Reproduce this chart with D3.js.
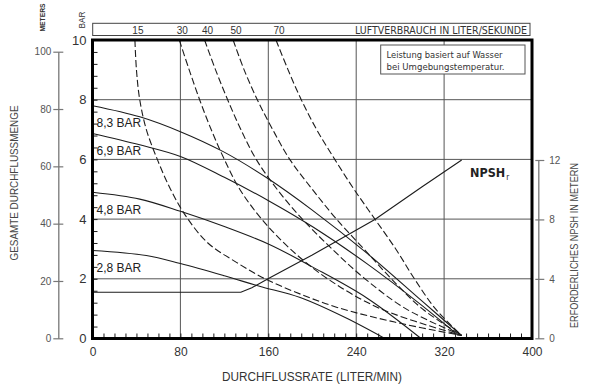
<!DOCTYPE html>
<html>
<head>
<meta charset="utf-8">
<script src="https://cdn.jsdelivr.net/npm/d3@7"></script>
<style>
  html, body { margin: 0; padding: 0; background: #fff; }
  svg { display: block; font-family: "Liberation Sans", Arial, sans-serif; }
  .cond { font-family: "Liberation Sans Narrow", "DejaVu Sans Condensed", "Liberation Sans", sans-serif; }
</style>
</head>
<body>
<svg id="chart" width="592" height="390"></svg>
<script>
// Flow axis (liter/min) and head axis (bar) ticks
const flowTicks = [0, 80, 160, 240, 320, 400];
const barTicks = [0, 2, 4, 6, 8, 10];
const meterTicks = [0, 20, 40, 60, 80, 100];
const npshTicks = [0, 4, 8, 12];

// Head curves at given air supply pressure: [flow l/min, head bar]
const pressureLabels = ["8,3 BAR", "6,9 BAR", "4,8 BAR", "2,8 BAR"];
const head83 = [[0, 7.8], [43, 7.43], [80, 6.93], [119, 6.26], [160, 5.35], [200, 4.3], [250, 2.85], [300, 1.25], [336, 0.1]];
const head69 = [[0, 6.87], [43, 6.49], [80, 6.1], [120, 5.4], [161, 4.6], [200, 3.75], [250, 2.5], [300, 1.1], [333, 0.1]];
const head48 = [[0, 4.9], [43, 4.67], [80, 4.26], [120, 3.75], [161, 3.15], [200, 2.4], [250, 1.35], [299, 0]];
const head28 = [[0, 2.95], [49, 2.78], [80, 2.51], [120, 2.1], [152, 1.75], [189, 1.37], [230, 0.7], [266, 0]];

// Air consumption curves (liter/second): [flow l/min, head bar]
const airLabels = ["15", "30", "40", "50", "70"];
const air15 = [[38.6, 10], [40, 9], [43, 8], [49, 7], [59, 6], [71, 5], [85, 4.1], [105, 3.2], [131, 2.55], [157, 2.0], [185, 1.55], [222, 1.05], [275, 0.55], [336, 0.1]];
const air30 = [[79, 10], [88, 9], [97.5, 8], [108, 7], [120, 6], [134, 5], [154, 4], [180, 3], [214, 2], [262, 1], [336, 0.1]];
const air40 = [[102, 10], [112, 9], [123, 8], [135, 7], [149, 6], [168, 5], [191, 4], [218, 3], [248, 2], [285, 1], [336, 0.1]];
const air50 = [[128, 10], [138, 9], [150, 8], [164, 7], [179.5, 6], [200, 5], [222, 4], [247, 3], [272, 2], [300, 1], [336, 0.1]];
const air70 = [[167, 10], [178, 9], [190, 8], [204, 7], [220.5, 6], [238, 5], [257, 4], [276, 3], [293, 2], [312, 1], [336, 0.1]];

// Required NPSH (meters) against flow
const npshCurve = [[0, 3.1], [135, 3.1], [145, 3.4], [161, 4.06], [200, 5.6], [257, 8.0], [300, 10.2], [336, 12]];

const svg = d3.select("#chart");
const ink = "#1c1c1c";

const x = d3.scaleLinear().domain([0, 400]).range([92.5, 532]);
const y = d3.scaleLinear().domain([0, 10]).range([338.5, 40]);
const m = d3.scaleLinear().domain([0, 100]).range([338.3, 51.7]);
const n = d3.scaleLinear().domain([0, 12]).range([338.3, 160]);

// grid
svg.append("g").selectAll("line").data([80, 160, 240, 320]).join("line")
  .attr("x1", d => x(d)).attr("x2", d => x(d)).attr("y1", y(0)).attr("y2", y(10))
  .attr("stroke", "#555").attr("stroke-width", 1);
svg.append("g").selectAll("line").data([2, 4, 6, 8]).join("line")
  .attr("x1", x(0)).attr("x2", x(400)).attr("y1", d => y(d)).attr("y2", d => y(d))
  .attr("stroke", "#555").attr("stroke-width", 1);

// minor ticks inside the frame
const minorX = svg.append("g").attr("transform", `translate(0,${y(0)})`)
  .call(d3.axisBottom(x).tickValues(d3.range(0, 401, 10)).tickSize(-5).tickFormat(""));
minorX.select(".domain").remove();
minorX.selectAll("line").attr("stroke", ink);
const minorY = svg.append("g").attr("transform", `translate(${x(0)},0)`)
  .call(d3.axisLeft(y).tickValues(d3.range(0, 10.01, 0.4)).tickSize(-5).tickFormat(""));
minorY.select(".domain").remove();
minorY.selectAll("line").attr("stroke", ink);

// note box
svg.append("rect").attr("x", 380.7).attr("y", 45).attr("width", 144.3).attr("height", 29)
  .attr("fill", "#fff").attr("stroke", "#555").attr("stroke-width", 1);
svg.append("text").attr("class", "cond").attr("x", 386.5).attr("y", 57.5)
  .attr("font-size", 9.5).attr("fill", "#333").attr("textLength", 116).attr("lengthAdjust", "spacingAndGlyphs")
  .text("Leistung basiert auf Wasser");
svg.append("text").attr("class", "cond").attr("x", 386.5).attr("y", 69.5)
  .attr("font-size", 9.5).attr("fill", "#333").attr("textLength", 118).attr("lengthAdjust", "spacingAndGlyphs")
  .text("bei Umgebungstemperatur.");

const line = d3.line().x(d => x(d[0])).y(d => y(d[1])).curve(d3.curveCatmullRom.alpha(0.5));

// air consumption curves (dashed)
const airCurves = [air15, air30, air40, air50, air70];
svg.append("g").selectAll("path").data(airCurves).join("path")
  .attr("d", line).attr("fill", "none").attr("stroke", ink)
  .attr("stroke-width", 1.1).attr("stroke-dasharray", "7,3");

// head curves (solid)
const headCurves = [head83, head69, head48, head28];
svg.append("g").selectAll("path").data(headCurves).join("path")
  .attr("d", line).attr("fill", "none").attr("stroke", ink).attr("stroke-width", 1.1);

// NPSH curve on the right-hand scale
svg.append("path").datum(npshCurve)
  .attr("d", d3.line().x(d => x(d[0])).y(d => n(d[1])))
  .attr("fill", "none").attr("stroke", ink).attr("stroke-width", 1.1);

// pressure labels just below each head curve's start
svg.append("g").selectAll("text").data(headCurves).join("text")
  .attr("x", x(0) + 4).attr("y", d => y(d[0][1]) + 21.5)
  .attr("font-size", 12).attr("fill", "#222")
  .text((d, i) => pressureLabels[i]);

// NPSHr label
const np = svg.append("text").attr("x", 470).attr("y", 177)
  .attr("font-size", 12.5).attr("font-weight", "bold").attr("fill", "#222")
  .attr("class", "cond");
np.append("tspan").text("NPSH");
np.append("tspan").attr("font-size", 8).attr("font-weight", "normal").attr("dx", 1).attr("dy", 3).text("r");

// frame
svg.append("rect").attr("x", x(0)).attr("y", y(10)).attr("width", x(400) - x(0)).attr("height", y(0) - y(10))
  .attr("fill", "none").attr("stroke", "#000").attr("stroke-width", 3);

// bottom labels
const bx = svg.append("g").attr("transform", `translate(0,${y(0)})`)
  .call(d3.axisBottom(x).tickValues(flowTicks).tickSize(0).tickPadding(9));
bx.select(".domain").remove();
bx.selectAll("text").attr("font-size", 12).attr("fill", "#333").attr("font-family", "inherit");

// inner left labels (bar)
const ly = svg.append("g").attr("transform", `translate(${x(0)},0)`)
  .call(d3.axisLeft(y).tickValues(barTicks).tickSize(0).tickPadding(6));
ly.select(".domain").remove();
ly.selectAll("text").attr("font-size", 13).attr("fill", "#333").attr("font-family", "inherit");

// outer left axis (meters)
const my = svg.append("g").attr("transform", "translate(58.3,0)")
  .call(d3.axisLeft(m).tickValues(meterTicks).tickSizeInner(5).tickSizeOuter(0).tickPadding(2));
my.select(".domain").attr("stroke", "#777").attr("stroke-width", 1.3);
my.selectAll("line").attr("x1", 5).attr("stroke", "#777").attr("stroke-width", 1.2);
my.selectAll("text").attr("font-size", 10).attr("fill", "#555").attr("font-family", "inherit");

// right axis (NPSH meters)
const ry = svg.append("g").attr("transform", "translate(538.3,0)")
  .call(d3.axisRight(n).tickValues(npshTicks).tickSizeInner(6).tickSizeOuter(0).tickPadding(5));
ry.select(".domain").attr("stroke", "#777").attr("stroke-width", 1.3);
ry.selectAll("line").attr("x1", -3).attr("stroke", "#777").attr("stroke-width", 1.2);
ry.selectAll("text").attr("font-size", 10).attr("fill", "#555").attr("font-family", "inherit");

// top air consumption strip
svg.append("rect").attr("x", 92.7).attr("y", 23.3).attr("width", 437.3).attr("height", 12.2)
  .attr("fill", "#fff").attr("stroke", "#444").attr("stroke-width", 1);
svg.append("g").selectAll("text").data(airCurves).join("text")
  .attr("x", d => x(d[0][0]) + 3).attr("y", 33.5).attr("text-anchor", "middle")
  .attr("font-size", 10).attr("fill", "#333")
  .text((d, i) => airLabels[i]);
svg.append("text").attr("class", "cond").attr("x", 527).attr("y", 33.5).attr("text-anchor", "end")
  .attr("font-size", 10).attr("fill", "#333").attr("textLength", 172).attr("lengthAdjust", "spacingAndGlyphs")
  .text("LUFTVERBRAUCH IN LITER/SEKUNDE");

// unit captions
svg.append("text").attr("transform", "translate(84.5,20) rotate(-90)").attr("text-anchor", "middle")
  .attr("font-size", 9).attr("fill", "#333").attr("textLength", 17).attr("lengthAdjust", "spacingAndGlyphs").text("BAR");
svg.append("text").attr("transform", "translate(45,17.5) rotate(-90)").attr("text-anchor", "middle")
  .attr("font-size", 7).attr("font-weight", "bold").attr("fill", "#333").attr("textLength", 28).attr("lengthAdjust", "spacingAndGlyphs").text("METERS");

// axis titles
svg.append("text").attr("x", 312).attr("y", 381).attr("text-anchor", "middle")
  .attr("font-size", 12.5).attr("fill", "#333").attr("textLength", 180).attr("lengthAdjust", "spacingAndGlyphs")
  .text("DURCHFLUSSRATE (LITER/MIN)");
svg.append("text").attr("transform", "translate(18,183) rotate(-90)").attr("text-anchor", "middle")
  .attr("font-size", 10.5).attr("fill", "#444").attr("textLength", 155).attr("lengthAdjust", "spacingAndGlyphs")
  .text("GESAMTE DURCHFLUSSMENGE");
svg.append("text").attr("transform", "translate(578,245.5) rotate(-90)").attr("text-anchor", "middle")
  .attr("font-size", 10).attr("fill", "#444").attr("textLength", 165).attr("lengthAdjust", "spacingAndGlyphs")
  .text("ERFORDERLICHES NPSH IN METERN");
</script>
</body>
</html>
